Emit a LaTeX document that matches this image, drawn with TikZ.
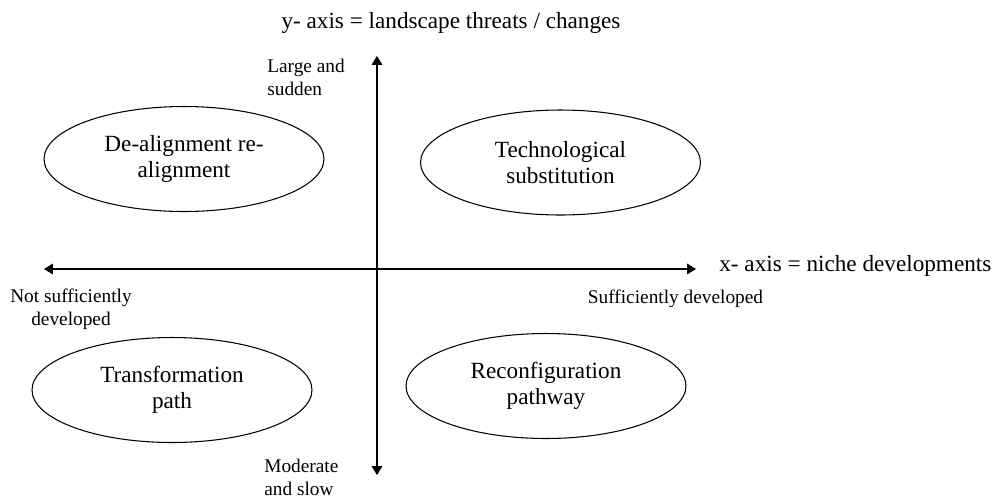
\documentclass[tikz,border=0pt]{standalone}
\usepackage{fontspec}
\setmainfont{Liberation Serif}
\usetikzlibrary{shapes.geometric,arrows.meta}
\begin{document}
\begin{tikzpicture}[x=0.02cm,y=-0.02cm,
  quad/.style={draw,line width=0.6pt,ellipse,minimum width=5.6cm,minimum height=2.1cm,
    align=center,font=\fontsize{13.2}{15}\selectfont,inner sep=0pt},
  axis/.style={line width=0.7pt,-{Triangle[length=5pt,width=6pt]}},
  lbl/.style={font=\fontsize{11}{13}\selectfont,align=center,inner sep=0pt},
  axiscaption/.style={font=\fontsize{13.2}{15}\selectfont,inner sep=0pt}]
\useasboundingbox (0,0) rectangle (992,498);
% axes
\coordinate (o) at (377,269);
\coordinate (top) at (377,56);
\coordinate (bot) at (377,475);
\coordinate (left) at (44,269);
\coordinate (right) at (696,269);
\draw[axis] (o) -- (top);
\draw[axis] (o) -- (bot);
\draw[axis] (o) -- (left);
\draw[axis] (o) -- (right);
% axis captions
\node[axiscaption] (ycap) at (451,23) {y- axis = landscape threats / changes};
\node[axiscaption,anchor=west] (xcap) at (719,266) {x- axis = niche developments};
% axis end labels
\node[lbl,align=left,anchor=west] (large) at (267,77.5) {Large and\\sudden};
\node[lbl] (notsuf) at (71,309) {Not sufficiently\\developed};
\node[lbl] (suf) at (675.5,299) {Sufficiently developed};
\node[lbl,align=left,anchor=west] (mod) at (264,477.5) {Moderate\\and slow};
% quadrants
\node[quad] (dealign) at (184,159) {De-alignment re-\\alignment};
\node[quad] (techsub) at (560.5,162.5) {Technological\\substitution};
\node[quad] (transf) at (172,390) {Transformation\\path};
\node[quad] (reconf) at (546,386) {Reconfiguration\\pathway};
\end{tikzpicture}
\end{document}
